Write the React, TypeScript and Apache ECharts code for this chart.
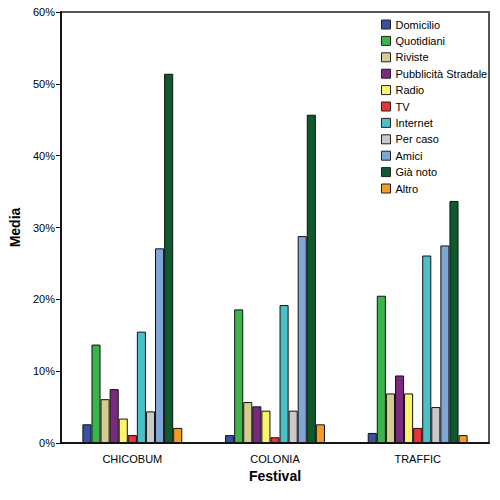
import React, { useEffect, useRef } from "react";
import * as echarts from "echarts";

const festivals = ["CHICOBUM", "COLONIA", "TRAFFIC"];
const sources = [
  "Domicilio",
  "Quotidiani",
  "Riviste",
  "Pubblicità Stradale",
  "Radio",
  "TV",
  "Internet",
  "Per caso",
  "Amici",
  "Già noto",
  "Altro",
];
const colors = [
  "#3a51a3",
  "#3bb54a",
  "#d4cd8f",
  "#7a2a7e",
  "#fbf46c",
  "#e8333a",
  "#4bc0c8",
  "#cacaca",
  "#7fa6d6",
  "#0e5a2d",
  "#f59c25",
];
// values in %, per source, for CHICOBUM, COLONIA, TRAFFIC
const domicilio = [2.6, 1.1, 1.4];
const quotidiani = [13.7, 18.6, 20.5];
const riviste = [6.1, 5.7, 6.9];
const pubblicita = [7.5, 5.1, 9.4];
const radio = [3.4, 4.5, 6.9];
const tv = [1.1, 0.8, 2.1];
const internet = [15.5, 19.2, 26.1];
const perCaso = [4.4, 4.5, 5.0];
const amici = [27.1, 28.8, 27.5];
const giaNoto = [51.4, 45.7, 33.7];
const altro = [2.1, 2.6, 1.1];
const values = [
  domicilio,
  quotidiani,
  riviste,
  pubblicita,
  radio,
  tv,
  internet,
  perCaso,
  amici,
  giaNoto,
  altro,
];
const yTicks = { min: 0, max: 60, interval: 10 };

const FONT = "'Liberation Sans', Arial, sans-serif";

export default function App() {
  const ref = useRef<HTMLDivElement>(null);
  useEffect(() => {
    if (!ref.current) return;
    const chart = echarts.init(ref.current, null, { renderer: "svg" });
    chart.setOption({
      animation: false,
      backgroundColor: "#ffffff",
      textStyle: { fontFamily: FONT },
      grid: {
        left: 61,
        right: 11,
        top: 12,
        bottom: 57,
        show: true,
        borderColor: "#555555",
        borderWidth: 2,
      },
      legend: {
        orient: "vertical",
        left: 376,
        top: 14,
        itemWidth: 9,
        itemHeight: 9,
        itemGap: 5.4,
        icon: "rect",
        textStyle: { fontFamily: FONT, fontSize: 11, color: "#000" },
        itemStyle: { borderColor: "#222", borderWidth: 1 },
        data: sources,
      },
      xAxis: {
        type: "category",
        data: festivals,
        name: "Festival",
        nameLocation: "middle",
        nameGap: 26,
        nameTextStyle: {
          fontFamily: FONT,
          fontSize: 14,
          fontWeight: "bold",
          color: "#000",
        },
        axisLine: { lineStyle: { color: "#000", width: 1.5 } },
        axisTick: {
          alignWithLabel: true,
          length: 5,
          lineStyle: { color: "#000" },
        },
        axisLabel: { fontFamily: FONT, fontSize: 11, color: "#000", margin: 10 },
      },
      yAxis: {
        type: "value",
        min: yTicks.min,
        max: yTicks.max,
        interval: yTicks.interval,
        name: "Media",
        nameLocation: "middle",
        nameGap: 35,
        nameTextStyle: {
          fontFamily: FONT,
          fontSize: 14,
          fontWeight: "bold",
          color: "#000",
        },
        axisLine: { show: true, lineStyle: { color: "#000", width: 1.5 } },
        axisTick: { show: true, length: 5, lineStyle: { color: "#000" } },
        splitLine: { show: false },
        axisLabel: {
          fontFamily: FONT,
          fontSize: 11,
          color: "#000",
          margin: 6,
          formatter: "{value}%",
        },
      },
      series: sources.map((name, i) => ({
        name,
        type: "bar",
        data: values[i],
        barGap: "0%",
        barCategoryGap: "30%",
        itemStyle: {
          color: colors[i],
          borderColor: "#111",
          borderWidth: 1,
        },
      })),
    });
    return () => chart.dispose();
  }, []);
  return (
    <div
      ref={ref}
      style={{ position: "fixed", left: 0, top: 0, width: 500, height: 500 }}
    />
  );
}
